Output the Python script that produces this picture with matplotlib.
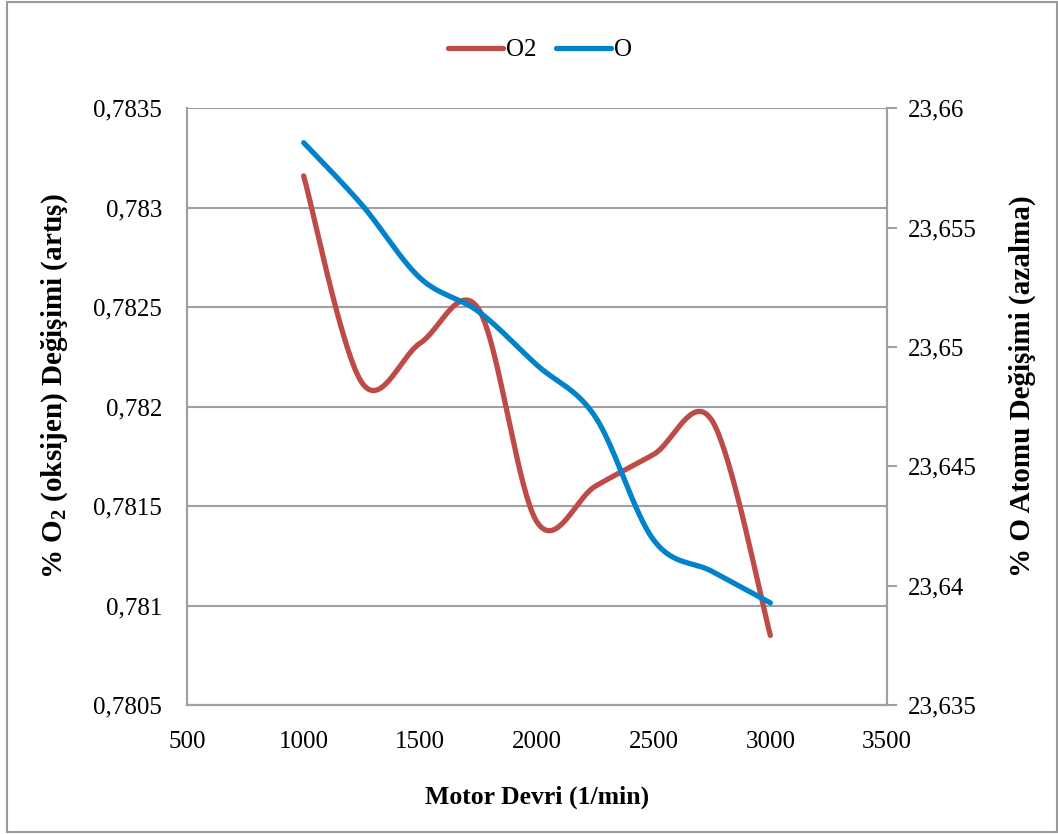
import numpy as np
import matplotlib
matplotlib.use("Agg")
import matplotlib.pyplot as plt
from matplotlib.patches import Rectangle

plt.rcParams['font.family'] = ['Liberation Serif', 'DejaVu Serif']
plt.rcParams['mathtext.fontset'] = 'custom'
plt.rcParams['mathtext.rm'] = 'Liberation Serif'
plt.rcParams['mathtext.bf'] = 'Liberation Serif:bold'

# veriler
devir = [1000, 1250, 1500, 1750, 2000, 2250, 2500, 2750, 3000]
o2 = [0.78316, 0.78212, 0.78232, 0.78249, 0.78142, 0.78160, 0.78176, 0.78193, 0.78085]
o_atom = [23.65856, 23.65595, 23.65288, 23.65148, 23.64924, 23.64707, 23.64191, 23.64060, 23.63928]

x_ticks = [500, 1000, 1500, 2000, 2500, 3000, 3500]
sol_ticks = [0.7805, 0.781, 0.7815, 0.782, 0.7825, 0.783, 0.7835]
sag_ticks = [23.635, 23.64, 23.645, 23.65, 23.655, 23.66]

RED = '#BE4B48'
BLUE = '#0083CA'
GRAY = '#A0A0A0'

def smooth(xs, ys, n=40):
    # excel tarzi yumusak cizgi (catmull-rom / bezier)
    x = np.array(xs, float)
    y = np.array(ys, float)
    px = np.concatenate([[x[0]], x, [x[-1]]])
    py = np.concatenate([[y[0]], y, [y[-1]]])
    out_x, out_y = [], []
    t = np.linspace(0, 1, n)
    for i in range(1, len(px) - 2):
        p0x, p0y = px[i], py[i]
        p3x, p3y = px[i + 1], py[i + 1]
        c1x = p0x + (px[i + 1] - px[i - 1]) / 6
        c1y = p0y + (py[i + 1] - py[i - 1]) / 6
        c2x = p3x - (px[i + 2] - px[i]) / 6
        c2y = p3y - (py[i + 2] - py[i]) / 6
        bx = (1-t)**3*p0x + 3*(1-t)**2*t*c1x + 3*(1-t)*t**2*c2x + t**3*p3x
        by = (1-t)**3*p0y + 3*(1-t)**2*t*c1y + 3*(1-t)*t**2*c2y + t**3*p3y
        out_x.extend(bx)
        out_y.extend(by)
    return out_x, out_y

fig = plt.figure(figsize=(10.58, 8.34), dpi=100)
ax = fig.add_axes([187/1058, 1-705/834, 700/1058, 596.7/834])
ax2 = ax.twinx()

sx, sy = smooth(devir, o2)
l1, = ax.plot(sx, sy, color=RED, lw=3.8, solid_capstyle='round', label='O2')
sx, sy = smooth(devir, o_atom)
l2, = ax2.plot(sx, sy, color=BLUE, lw=3.8, solid_capstyle='round', label='O')

ax.set_xlim(500, 3500)
ax.set_ylim(0.7805, 0.7835)
ax2.set_ylim(23.635, 23.66)
ax.set_xticks(x_ticks)
ax.set_yticks(sol_ticks)
ax2.set_yticks(sag_ticks)
ax.set_xticklabels([str(v) for v in x_ticks])
ax.set_yticklabels([f'{v:g}'.replace('.', ',') for v in sol_ticks])
ax2.set_yticklabels([f'{v:g}'.replace('.', ',') for v in sag_ticks])

ax.grid(axis='y', color=GRAY, lw=1.5)
ax.set_axisbelow(True)
for a in (ax, ax2):
    for s in a.spines.values():
        s.set_color(GRAY)
        s.set_linewidth(1.5)
ax.spines['top'].set_visible(False)
ax2.spines['top'].set_visible(False)

ax.tick_params(axis='x', length=0, pad=19, labelsize=18)
ax.tick_params(axis='y', length=0, pad=18, labelsize=18)
ax2.tick_params(axis='y', length=7, width=1.5, color=GRAY, pad=8, labelsize=18)

ax.set_xlabel('Motor Devri (1/min)', fontsize=18.5, fontweight='bold', va='center')
ax.xaxis.set_label_coords(0.5, (705-797)/596.7)
ax.set_ylabel(r'% O$_{\mathbf{2}}$ (oksijen) Değişimi (artış)', fontsize=21, fontweight='bold', va='center')
ax.yaxis.set_label_coords((55-187)/700, 0.535)
ax2.set_ylabel('% O Atomu Değişimi (azalma)', fontsize=21, fontweight='bold', va='center', rotation=90)
ax2.yaxis.set_label_coords((1022-187)/700, 0.535)

fig.legend(handles=[l1, l2], loc='center', bbox_to_anchor=(540/1058, 1-50/834), ncol=2,
           frameon=False, fontsize=18, handlelength=2.2, handletextpad=0.15, columnspacing=0.75)

fig.patches.append(Rectangle((7/1058, 1-832/834), 1050/1058, 830/834, transform=fig.transFigure,
                             fill=False, edgecolor='#999999', lw=1.5))

fig.savefig('out.png', dpi=100)
